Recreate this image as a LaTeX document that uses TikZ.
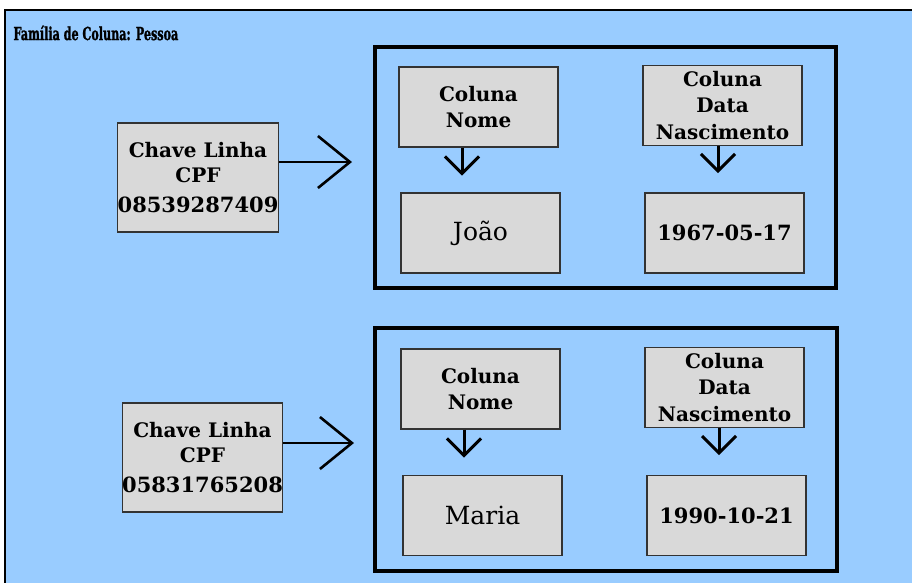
\documentclass[tikz,border=0pt]{standalone}
\usepackage{fontspec}
\setmainfont{DejaVu Serif}
\newfontfamily\titlefont[FakeStretch=0.62,FakeBold=1.2]{DejaVu Serif}
\usetikzlibrary{arrows.meta}
\definecolor{fundo}{HTML}{99CCFF}
\definecolor{caixa}{HTML}{D9D9D9}

\begin{document}
\begin{tikzpicture}[x=1pt,y=-1pt,
        caixa/.style={draw=black!80,line width=1.2pt,fill=caixa,minimum width=159pt,inner sep=0pt,align=center},
        chave/.style={caixa,minimum height=109pt,font=\bfseries\fontsize{20}{25}\selectfont},
        coluna/.style={caixa,minimum height=80pt,font=\bfseries\fontsize{20}{26.5}\selectfont},
        valor/.style={caixa,minimum height=80pt,font=\fontsize{25}{30}\selectfont},
        data/.style={caixa,minimum height=80pt,font=\bfseries\fontsize{21}{25}\selectfont},
        grupo/.style={draw=black,line width=3.5pt,minimum width=461pt,minimum height=241pt,inner sep=0pt},
        seta/.style={line width=2.6pt,-{Straight Barb[length=32pt,width=52pt]}},
        setab/.style={line width=3pt,-{Straight Barb[length=17pt,width=34pt]}}]
        \useasboundingbox (0,0) rectangle (912,582);
        \clip (0,0) rectangle (912,582);
        \fill[white] (0,0) rectangle (912,582);
        \draw[fill=fundo,line width=2.5pt] (5,10) rectangle (940,610);
        \node[anchor=west,font=\titlefont\bfseries\fontsize{18}{18}\selectfont] (titulo) at (10,33) {Família de Coluna: Pessoa};

        % primeira linha
        \node[grupo] (linha1) at (605.5,167.5) {};
        \node[chave] (chave1) at (198,177.5) {Chave Linha\\CPF\\[5pt]{\fontsize{21}{21}\selectfont 08539287409}};
        \coordinate (p1) at (352,162);
        \draw[seta] (chave1.east |- p1) -- (p1);
        \node[coluna] (nome1) at (478.5,107) {Coluna\\Nome};
        \node[valor] (joao) at (480.5,233) {João};
        \node[coluna] (nasc1) at (722.5,105.5) {Coluna\\Data\\Nascimento};
        \node[data] (data1) at (724.5,233) {1967-05-17};
        \draw[setab] ([xshift=-16.5pt]nome1.south) -- ++(0,28);
        \draw[setab] ([xshift=-4.5pt]nasc1.south) -- ++(0,27);

        % segunda linha
        \node[grupo,minimum width=462pt,minimum height=243pt] (linha2) at (606,449.5) {};
        \node[chave] (chave2) at (202.5,457.5) {Chave Linha\\CPF\\[5pt]{\fontsize{21}{21}\selectfont 05831765208}};
        \coordinate (p2) at (354,443);
        \draw[seta] (chave2.east |- p2) -- (p2);
        \node[coluna] (nome2) at (480.5,389) {Coluna\\Nome};
        \node[valor] (maria) at (482.5,515.5) {Maria};
        \node[coluna] (nasc2) at (724.5,387.5) {Coluna\\Data\\Nascimento};
        \node[data] (data2) at (726.5,515.5) {1990-10-21};
        \draw[setab] ([xshift=-16.5pt]nome2.south) -- ++(0,28);
        \draw[setab] ([xshift=-5.5pt]nasc2.south) -- ++(0,27);
\end{tikzpicture}
\end{document}
